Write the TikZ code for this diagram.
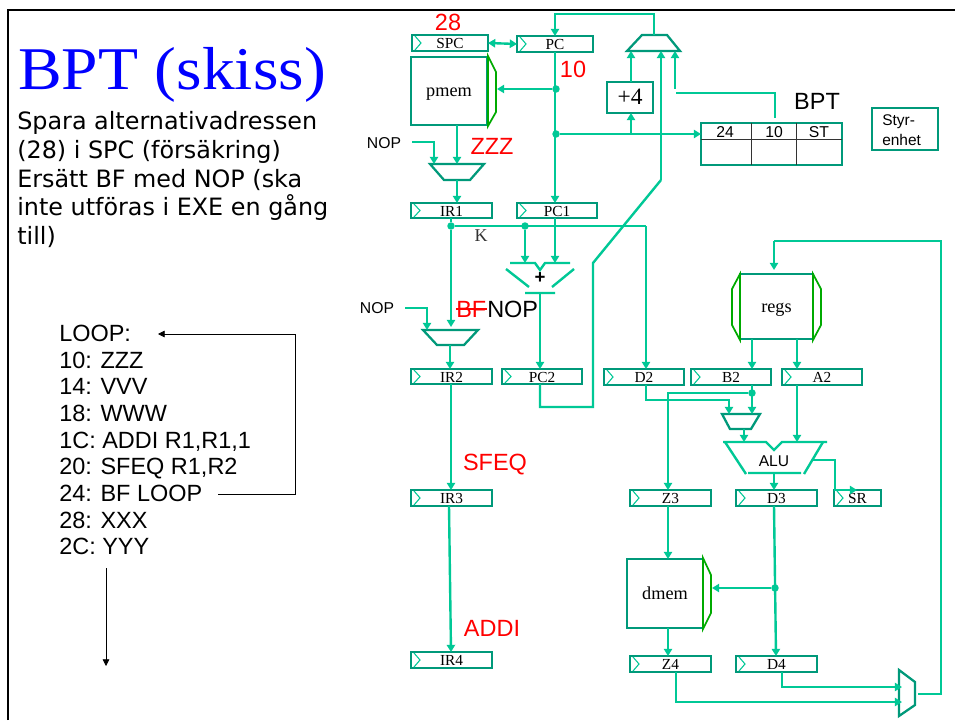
\documentclass[tikz,border=0pt]{standalone}
\usepackage{fontspec}
\setmainfont{Liberation Sans}
\newfontfamily\serifx{Liberation Serif}
\newfontfamily\titlef[FakeStretch=1.08]{Liberation Serif}
\newfontfamily\verd{DejaVu Sans}
\usetikzlibrary{arrows.meta}
\definecolor{wire}{HTML}{00C896}
\definecolor{boxc}{HTML}{00997A}
\definecolor{sidec}{HTML}{00AA00}
\definecolor{redt}{HTML}{FF0000}
\definecolor{bluet}{HTML}{0000FF}
\tikzset{
  wireline/.style={draw=wire,line width=1.8pt,line join=miter},
  arr/.style={wireline,-{Triangle[length=5.4pt,width=6.2pt]}},
  thinarr/.style={draw=black,line width=.6pt,-{Triangle[length=5pt,width=5pt]}},
  regbox/.style={draw=boxc,line width=1.7pt,fill=none,inner sep=0pt,outer sep=0pt,font=\serifx\fontsize{11.5}{12}\selectfont,text=black,text height=8.4pt,text depth=0pt},
  clk/.style={draw=wire,line width=.8pt},
  membox/.style={regbox,line width=1.9pt,font=\serifx\fontsize{13.7}{14}\selectfont,text height=9pt,text depth=0pt},
  side/.style={draw=sidec,line width=1.3pt},
  muxs/.style={draw=boxc,line width=1.7pt,line join=miter},
  ghost/.style={inner sep=0pt,outer sep=0pt},
  jdot/.style={circle,fill=wire,inner sep=0pt,minimum size=5.6pt},
  redl/.style={text=redt,font=\fontsize{17.6}{18}\selectfont,inner sep=0pt},
  blackl/.style={text=black,font=\fontsize{17.6}{18}\selectfont,inner sep=0pt},
  smalll/.style={text=black,font=\fontsize{11.8}{14}\selectfont,inner sep=0pt},
}
\newcommand\reg[6]{%
  \node[regbox,minimum width={(#4-#2)*0.75pt},minimum height={(#5-#3)*0.75pt}] (#1) at ({(#2+#4)/2},{(#3+#5)/2}) {#6};
  \draw[clk] ({#2+3},{#3+1}) -- ({#2+9},{(#3+#5)/2}) -- ({#2+3},{#5-1});
}
\newcommand\ghostbox[5]{%
  \node[ghost,minimum width={(#4-#2)*0.75pt},minimum height={(#5-#3)*0.75pt}] (#1) at ({(#2+#4)/2},{(#3+#5)/2}) {};
}
\begin{document}
\begin{tikzpicture}[x=0.75pt,y=-0.75pt]
\useasboundingbox (0,0) rectangle (955,720);
\fill[white] (0,0) rectangle (955,720);
% frame
\draw[black,line width=1.9pt] (8,720) -- (8,10) -- (955,10);
% left texts
\node[anchor=base west,inner sep=0pt,text=bluet,font=\titlef\fontsize{45.5}{46}\selectfont] (title) at (18,90) {BPT (skiss)};
\node[anchor=north west,inner sep=0pt,align=left,text=black,font=\verd\fontsize{17.9}{21.45}\selectfont] (body) at (17,111.5) {Spara alternativadressen\\(28) i SPC (försäkring)\\Ersätt BF med NOP (ska\\inte utföras i EXE en gång\\till)};
\node[anchor=north west,inner sep=0pt,align=left,text=black,font=\fontsize{17.6}{20}\selectfont] (prog) at (59,325) {LOOP:\\10: ZZZ\\14: VVV\\18: WWW\\1C: ADDI R1,R1,1\\20: SFEQ R1,R2\\24: BF LOOP\\28: XXX\\2C: YYY};
\coordinate (bfout) at (218,494);
\coordinate (looptip) at (158,334);
\coordinate (downs) at (106,568);
\coordinate (downe) at (106,666);
\draw[thinarr] (bfout) -- (295,494) -- (295,334) -- (looptip);
\draw[thinarr] (downs) -- (downe);

% registers
\reg{SPC}{412}{35}{488}{51}{SPC}
\reg{PC}{517}{36}{593}{52}{PC}
\reg{IRa}{411}{203}{492}{218}{IR1}
\reg{PCa}{517}{203}{597}{218}{PC1}
\reg{IRb}{411}{369}{492}{384}{IR2}
\reg{PCb}{502}{369}{582}{384}{PC2}
\reg{Dt}{604}{369}{684}{385}{D2}
\reg{Bt}{691}{369}{771}{385}{B2}
\reg{At}{782}{369}{862}{385}{A2}
\reg{IRc}{411}{490}{492}{506}{IR3}
\reg{Zc}{630}{490}{711}{506}{Z3}
\reg{Dc}{736}{490}{817}{506}{D3}
\reg{SR}{834}{490}{881}{506}{SR}
\reg{IRd}{411}{652}{492}{668}{IR4}
\reg{Zd}{630}{656}{711}{672}{Z4}
\reg{Dd}{736}{656}{817}{672}{D4}

% memories
\node[membox,minimum width={76*0.75pt},minimum height={68*0.75pt}] (pmem) at (449,91) {pmem};
\draw[side] (488,56) -- (496,72) -- (496,112) -- (488,126) -- cycle;
\node[membox,minimum width={73*0.75pt},minimum height={65*0.75pt}] (regs) at (776.5,306.5) {regs};
\draw[side] (740,274) -- (732,289) -- (732,325) -- (740,340) -- cycle;
\draw[side] (813,274) -- (821,289) -- (821,325) -- (813,340) -- cycle;
\node[membox,minimum width={76*0.75pt},minimum height={69*0.75pt}] (dmem) at (665,593.5) {dmem};
\draw[side] (703,558) -- (711,575) -- (711,613) -- (703,629) -- cycle;

% +4, BPT, control
\node[regbox,line width=1.6pt,font=\serifx\fontsize{17.6}{18}\selectfont,text height=11pt,minimum width={46*0.75pt},minimum height={31*0.75pt}] (plus) at (630,97.5) {+4};
\node[regbox,line width=1.7pt,text height=0pt,minimum width={141*0.75pt},minimum height={42*0.75pt}] (bpt) at (771.5,144) {};
\draw[black!80,line width=.7pt] (701,139) -- (842,139) (751,123) -- (751,165) (796,123) -- (796,165);
\node[smalll] (b24) at (725,132) {24};
\node[smalll] (b10) at (774,132) {10};
\node[smalll] (bST) at (819,132) {ST};
\node[blackl] (bptl) at (817,101) {BPT};
\node[regbox,line width=1.8pt,text height=0pt,minimum width={66*0.75pt},minimum height={42*0.75pt}] (ctrl) at (905,129) {};
\node[anchor=west,inner sep=0pt,align=left,text=black,font=\fontsize{11.6}{14.8}\selectfont] (ctrlt) at (882,130) {Styr-\\enhet};

% muxes
\draw[muxs] (627,51) -- (642,35) -- (667,35) -- (680,51) -- cycle;
\ghostbox{muxpc}{627}{35}{680}{51}
\draw[muxs] (430,164) -- (484,164) -- (470,180) -- (444,180) -- cycle;
\ghostbox{muxa}{430}{164}{484}{180}
\draw[muxs] (423,330) -- (478,330) -- (464,345) -- (437,345) -- cycle;
\ghostbox{muxb}{423}{330}{478}{345}
\draw[muxs] (722,414) -- (760,414) -- (751,429) -- (730,429) -- cycle;
\ghostbox{muxc}{722}{414}{760}{429}
\draw[muxs] (899,670) -- (915,682) -- (915,705) -- (899,716) -- cycle;
\ghostbox{muxd}{899}{670}{915}{716}

% adder
\draw[wireline] (510,263) -- (535,263) -- (540,270) -- (545,263) -- (570,263);
\draw[wireline] (506,269) -- (529,287) (574,269) -- (552,287) (525,293) -- (555,293);
\ghostbox{adder}{510}{263}{570}{293}
\node[inner sep=0pt,text=black,font=\bfseries\fontsize{14}{14}\selectfont] (plusl) at (540,278) {+};

% ALU
\draw[wireline] (723,442) -- (766,442) -- (774,450) -- (782,442) -- (827,442);
\draw[wireline] (725,442) -- (746,474) (823,442) -- (804,474) (748,473) -- (801,473);
\ghostbox{alu}{723}{442}{827}{473}
\node[inner sep=0pt,text=black,font=\fontsize{11.7}{12}\selectfont] (alul) at (774,461) {ALU};

% labels
\node[redl] (l28) at (448,22) {28};
\node[redl] (l10) at (573,69) {10};
\node[redl] (lzzz) at (492,146) {ZZZ};
\node[redl] (lsfeq) at (495,465) {SFEQ};
\node[redl] (laddi) at (492,628) {ADDI};
\node[smalll] (nopa) at (384,143) {NOP};
\node[smalll] (nopb) at (377,308) {NOP};
\node[inner sep=0pt,text=black!80,font=\serifx\fontsize{13.5}{14}\selectfont] (kl) at (481,236) {K};
\node[redl,anchor=base west] (bfl) at (456,317) {BF};
\draw[redt,line width=1pt] (bfl.west) -- (bfl.east);
\node[blackl,anchor=base west] (nopl) at (487,317) {NOP};

% junctions
\node[jdot] (ja) at (556,89) {};
\node[jdot] (jb) at (556,134) {};
\node[jdot] (jc) at (451,226) {};
\node[jdot] (jd) at (525,226) {};
\node[jdot] (je) at (752,393) {};
\node[jdot] (jf) at (775,588) {};

% free ends
\coordinate (nopas) at (412,142);
\coordinate (nopbs) at (405,308);
\coordinate (bptout) at (676,93);
\coordinate (muxin) at (675,89);
\coordinate (wbout) at (918,694);

% top section connectors
\draw[wireline,{Triangle[length=5.4pt,width=6.2pt]}-{Triangle[length=5.4pt,width=6.2pt]}] (SPC.east) -- (PC.west);
\draw[arr] (654,0 |- muxpc.north) -- (654,14) -- (555,14) -- (555,0 |- PC.north);
\draw[arr] (555,0 |- PC.south) -- (555,0 |- PCa.north);
\draw[arr] (ja) -- (497,89);
\draw[arr] (jb) -- (bpt.west |- jb);
\draw[arr] (631,134) -- (631,0 |- plus.south);
\draw[arr] (631,0 |- plus.north) -- (631,0 |- muxpc.south);
\draw[arr] (muxin) -- (675,0 |- muxpc.south);
\draw[wireline] (bptout) -- (775,93) -- (775,118);
\draw[wireline] (540,0 |- PCb.south) -- (540,407) -- (593,407) -- (593,263) -- (661,180);
\draw[arr] (661,180) -- (661,0 |- muxpc.south);

% IF/ID
\draw[wireline] (nopas) -- (434,142) -- (434,150);
\draw[arr] (434,150) -- (434,0 |- muxa.north);
\draw[arr] (457,0 |- pmem.south) -- (457,0 |- muxa.north);
\draw[arr] (457,0 |- muxa.south) -- (457,0 |- IRa.north);
\draw[wireline] (451,0 |- IRa.south) -- (jc);
\draw[wireline] (jc) -- (646,226);
\draw[arr] (646,226) -- (646,0 |- Dt.north);
\draw[arr] (jd) -- (525,0 |- adder.north);
\draw[arr] (555,0 |- PCa.south) -- (555,0 |- adder.north);
\draw[arr] (540,0 |- adder.south) -- (540,0 |- PCb.north);
\draw[arr] (jc) -- (451,327);
\draw[wireline] (nopbs) -- (427,308) -- (427,315);
\draw[arr] (427,315) -- (427,0 |- muxb.north);
\draw[arr] (450,0 |- muxb.south) -- (450,0 |- IRb.north);
\draw[arr] (451,0 |- IRb.south) -- (451,0 |- IRc.north);
\draw[arr] (449,0 |- IRc.south) -- (451,0 |- IRd.north);

% EXE
\draw[arr] (774,241) -- (774,270);
\draw[wireline] (wbout) -- (941,694) -- (941,241) -- (774,241);
\draw[arr] (752,0 |- regs.south) -- (752,0 |- Bt.north);
\draw[arr] (797,0 |- regs.south) -- (797,0 |- At.north);
\draw[arr] (646,0 |- Dt.south) -- (646,400) -- (729,400) -- (729,0 |- muxc.north);
\draw[arr] (752,0 |- Bt.south) -- (752,0 |- muxc.north);
\draw[arr] (je) -- (668,393) -- (668,0 |- Zc.north);
\draw[arr] (744,0 |- muxc.south) -- (744,0 |- alu.north);
\draw[arr] (797,0 |- At.south) -- (797,0 |- alu.north);
\draw[arr] (774,0 |- alu.south) -- (774,0 |- Dc.north);
\draw[arr] (813,460) -- (835,460) -- (835,490) -- (857,490);

% MEM / WB
\draw[arr] (668,0 |- Zc.south) -- (668,0 |- dmem.north);
\draw[arr] (668,0 |- dmem.south) -- (668,0 |- Zd.north);
\draw[arr] (774,0 |- Dc.south) -- (776,0 |- Dd.north);
\draw[arr] (jf) -- (712,588);
\draw[arr] (676,0 |- Zd.south) -- (676,702) -- (902,702);
\draw[arr] (782,0 |- Dd.south) -- (782,687) -- (902,687);
\end{tikzpicture}
\end{document}
